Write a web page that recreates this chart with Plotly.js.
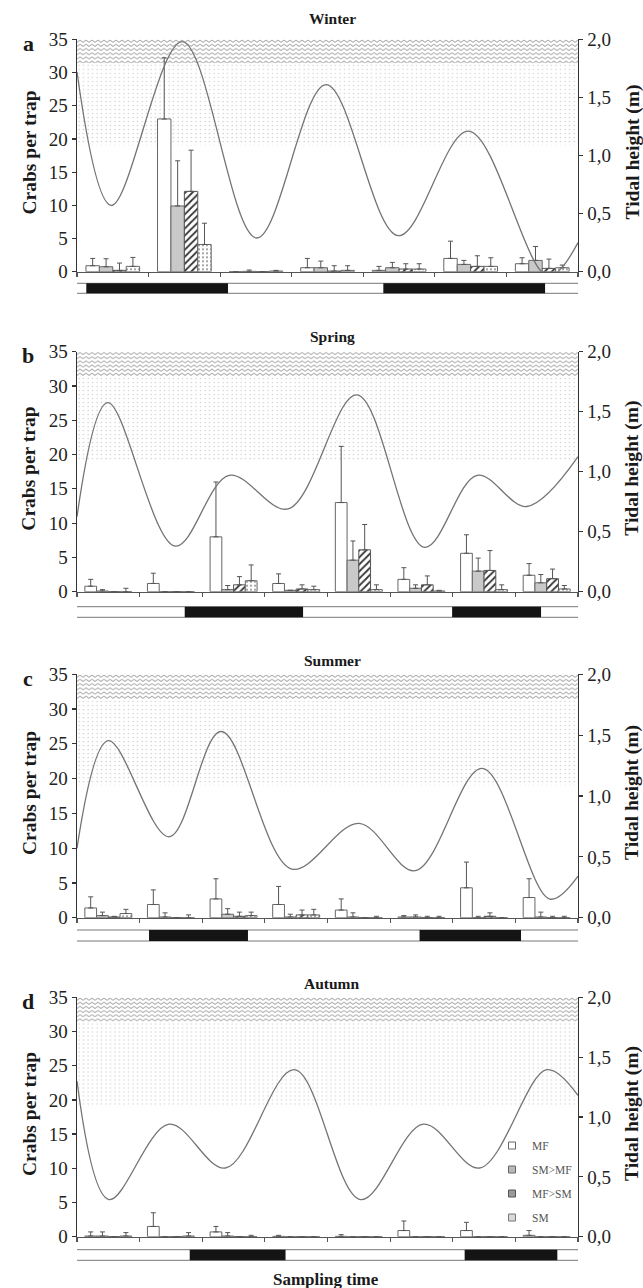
<!DOCTYPE html>
<html><head><meta charset="utf-8">
<script src="https://cdn.plot.ly/plotly-3.0.1.min.js"></script>
<style>html,body{margin:0;padding:0;background:#fff}#chart{width:643px;height:1288px}</style>
</head><body><div id="chart"></div>
<script>
// ---------------- DATA ----------------
const seriesNames = ['MF', 'SM>MF', 'MF>SM', 'SM'];
const seasonTitles = ['Winter', 'Spring', 'Summer', 'Autumn'];
const panelLetters = ['a', 'b', 'c', 'd'];
const tideTickVals = [0, 0.5, 1, 1.5, 2];
const tideTickText = ['0,0', '0,5', '1,0', '1,5', '2,0'];
const crabTickVals = [0, 5, 10, 15, 20, 25, 30, 35];

// Winter (7 sampling times)
const winterMF      = [0.9, 23.0, 0, 0.6, 0.2, 2.0, 1.2];
const winterMFErr   = [1.1, 9.2, 0, 1.4, 0.6, 2.6, 0.9];
const winterSMMF    = [0.75, 9.9, 0.05, 0.6, 0.6, 1.1, 1.7];
const winterSMMFErr = [1.2, 6.8, 0.2, 1.0, 0.8, 0.6, 2.1];
const winterMFSM    = [0.2, 12.1, 0, 0.1, 0.4, 0.8, 0.5];
const winterMFSMErr = [1.1, 6.2, 0, 0.8, 0.8, 1.6, 1.4];
const winterSM      = [0.8, 4.1, 0.1, 0.2, 0.4, 0.8, 0.6];
const winterSMErr   = [1.35, 3.2, 0.1, 0.7, 0.8, 1.3, 0.4];
// tide: times (in sampling-interval units) and heights (m) of the turning points
const winterTideT   = [0, 0.48, 1.47, 2.51, 3.48, 4.49, 5.47, 6.58, 7.0];
const winterTideH   = [1.72, 0.57, 1.98, 0.29, 1.61, 0.31, 1.21, -0.04, 0.25];
const winterNights  = [[0.13, 2.11], [4.28, 6.54]];
const winterSpan    = [-0.06, 7.06];

// Spring (8 sampling times)
const springMF      = [0.8, 1.2, 8.0, 1.2, 13.0, 1.8, 5.6, 2.4];
const springMFErr   = [1.0, 1.5, 8.0, 1.4, 8.2, 1.7, 2.7, 1.7];
const springSMMF    = [0.1, 0, 0.3, 0.2, 4.6, 0.5, 3.0, 1.3];
const springSMMFErr = [0.2, 0, 0.6, 0, 2.8, 0.5, 1.9, 1.2];
const springMFSM    = [0, 0, 1.0, 0.4, 6.1, 1.0, 3.1, 1.9];
const springMFSMErr = [0, 0, 1.2, 0.6, 3.7, 1.3, 2.9, 1.4];
const springSM      = [0, 0, 1.6, 0.3, 0.3, 0.1, 0.3, 0.4];
const springSMErr   = [0.5, 0, 2.3, 0.5, 0.7, 0.1, 0.7, 0.5];
const springTideT   = [0, 0.49, 1.57, 2.43, 3.37, 4.47, 5.55, 6.39, 7.18, 8.0];
const springTideH   = [0.625, 1.575, 0.38, 0.97, 0.69, 1.64, 0.37, 0.97, 0.71, 1.125];
const springNights  = [[1.72, 3.61], [5.99, 7.41]];
const springSpan    = [-0.03, 8.02];

// Summer (8 sampling times)
const summerMF      = [1.4, 1.9, 2.7, 1.9, 1.1, 0.1, 4.3, 2.9];
const summerMFErr   = [1.6, 2.1, 2.9, 2.6, 1.6, 0.2, 3.7, 2.7];
const summerSMMF    = [0.3, 0.1, 0.5, 0.1, 0.1, 0.1, 0, 0.1];
const summerSMMFErr = [0.5, 0.6, 0.8, 0.4, 0.6, 0.3, 0.2, 0.7];
const summerMFSM    = [0.1, 0, 0.2, 0.4, 0, 0, 0.2, 0];
const summerMFSMErr = [0.1, 0, 0.6, 0.7, 0, 0.2, 0.5, 0.2];
const summerSM      = [0.6, 0, 0.3, 0.4, 0, 0, 0, 0];
const summerSMErr   = [0.6, 0.4, 0.5, 0.8, 0.2, 0.2, 0, 0.2];
const summerTideT   = [0, 0.5, 1.47, 2.3, 3.43, 4.5, 5.4, 6.47, 7.55, 8.0];
const summerTideH   = [0.57, 1.455, 0.665, 1.53, 0.4, 0.775, 0.386, 1.227, 0.153, 0.342];
const summerNights  = [[1.15, 2.73], [5.47, 7.09]];
const summerSpan    = [-0.03, 8.02];

// Autumn (8 sampling times)
const autumnMF      = [0.1, 1.5, 0.7, 0.05, 0.05, 0.9, 0.9, 0.2];
const autumnMFErr   = [0.6, 2.0, 0.8, 0.15, 0.25, 1.4, 1.2, 0.7];
const autumnSMMF    = [0.1, 0, 0.1, 0, 0, 0, 0, 0];
const autumnSMMFErr = [0.6, 0, 0.5, 0, 0, 0, 0, 0];
const autumnMFSM    = [0, 0, 0, 0, 0, 0, 0, 0];
const autumnMFSMErr = [0, 0, 0, 0, 0, 0, 0, 0];
const autumnSM      = [0.1, 0.1, 0, 0, 0, 0, 0, 0];
const autumnSMErr   = [0.5, 0.5, 0.2, 0, 0, 0, 0, 0];
const autumnTideT   = [0, 0.51, 1.47, 2.37, 3.47, 4.53, 5.53, 6.43, 7.5, 8.0];
const autumnTideH   = [1.3, 0.31, 0.94, 0.574, 1.395, 0.31, 0.94, 0.574, 1.395, 1.18];
const autumnNights  = [[1.8, 3.33], [6.19, 7.67]];
const autumnSpan    = [-0.05, 8.03];

// background zones (crabs-axis units)
const zoneTop = 35, waveBottom = 31.4, dotsBottom = 19;

// ---------------- LAYOUT / STYLE ----------------
const W = 643, H = 1288;
const plotLeft = 77, plotRight = 578;
// [top of plot, bottom of plot, top of day bar, bottom of day bar, title y]
const panelPx = [
  [39.3, 271.7, 283.3, 293.3, 19],
  [351.7, 591.7, 606.7, 617.3, 336],
  [674.3, 917.7, 930, 941, 660],
  [997.3, 1236.7, 1249.7, 1260.3, 983]
];
const FONT = 'Liberation Serif, Times New Roman, serif';
const py = p => 1 - p / H;
const px = p => p / W;

const seasons = [
  {mf: winterMF, mfE: winterMFErr, smmf: winterSMMF, smmfE: winterSMMFErr, mfsm: winterMFSM, mfsmE: winterMFSMErr, sm: winterSM, smE: winterSMErr, tT: winterTideT, tH: winterTideH, nights: winterNights, span: winterSpan},
  {mf: springMF, mfE: springMFErr, smmf: springSMMF, smmfE: springSMMFErr, mfsm: springMFSM, mfsmE: springMFSMErr, sm: springSM, smE: springSMErr, tT: springTideT, tH: springTideH, nights: springNights, span: springSpan},
  {mf: summerMF, mfE: summerMFErr, smmf: summerSMMF, smmfE: summerSMMFErr, mfsm: summerMFSM, mfsmE: summerMFSMErr, sm: summerSM, smE: summerSMErr, tT: summerTideT, tH: summerTideH, nights: summerNights, span: summerSpan},
  {mf: autumnMF, mfE: autumnMFErr, smmf: autumnSMMF, smmfE: autumnSMMFErr, mfsm: autumnMFSM, mfsmE: autumnMFSMErr, sm: autumnSM, smE: autumnSMErr, tT: autumnTideT, tH: autumnTideH, nights: autumnNights, span: autumnSpan}
];

const barStyles = [
  {color: '#ffffff', line: {color: '#666', width: 1}},
  {color: '#c9c9c9', line: {color: '#666', width: 1}},
  {color: '#ffffff', line: {color: '#555', width: 1}, pattern: {shape: '/', fgcolor: '#333', bgcolor: '#ffffff', size: 5, solidity: 0.35}},
  {color: '#ffffff', line: {color: '#666', width: 1}, pattern: {shape: '.', fgcolor: '#8a8a8a', bgcolor: '#ffffff', size: 4, solidity: 0.2}}
];
const legendSymbols = [
  {color: '#ffffff', line: {color: '#666', width: 1}},
  {color: '#b8b8b8', line: {color: '#666', width: 1}},
  {color: '#9a9a9a', line: {color: '#555', width: 1}},
  {color: '#d8d8d8', line: {color: '#777', width: 1}}
];

function svgURI(w, h, kind) {
  let pat;
  if (kind === 'wave') {
    pat = '<pattern id="p" width="6" height="4.2" patternUnits="userSpaceOnUse">' +
          '<path d="M-0.5 3.4 L3 0.8 L6.5 3.4" fill="none" stroke="#adadad" stroke-width="1" stroke-linejoin="round"/></pattern>';
  } else {
    pat = '<pattern id="p" width="4.5" height="4" patternUnits="userSpaceOnUse">' +
          '<rect x="1.5" y="1.5" width="1.1" height="1.1" fill="#c2c2c2"/></pattern>';
  }
  const svg = '<svg xmlns="http://www.w3.org/2000/svg" width="' + w + '" height="' + h +
    '" viewBox="0 0 ' + w + ' ' + h + '"><defs>' + pat + '</defs><rect width="' + w + '" height="' + h + '" fill="url(#p)"/></svg>';
  return 'data:image/svg+xml;base64,' + btoa(svg);
}

const data = [];
const layout = {
  width: W, height: H,
  margin: {l: 0, r: 0, t: 0, b: 0},
  paper_bgcolor: '#ffffff', plot_bgcolor: 'rgba(0,0,0,0)',
  barmode: 'group', bargap: 0.25, bargroupgap: 0,
  showlegend: true,
  legend: {x: px(492), y: py(1131), xanchor: 'left', yanchor: 'top', bgcolor: 'rgba(0,0,0,0)',
           font: {family: FONT, size: 11.5, color: '#555'}, tracegroupgap: 5, itemwidth: 30},
  shapes: [], annotations: [], images: [],
  font: {family: FONT, color: '#222'}
};

seasons.forEach((s, i) => {
  const n = s.mf.length;
  const xs = s.mf.map((_, k) => k + 0.5);
  const xName = i === 0 ? 'x' : 'x' + (i + 1);
  const yL = 2 * i + 1, yR = 2 * i + 2;
  const yLName = yL === 1 ? 'y' : 'y' + yL;
  const yRName = 'y' + yR;
  const [top, bot, bTop, bBot, titleY] = panelPx[i];

  const vals = [s.mf, s.smmf, s.mfsm, s.sm];
  const errs = [s.mfE, s.smmfE, s.mfsmE, s.smE];
  vals.forEach((v, j) => {
    data.push({
      type: 'bar', x: xs, y: v, name: seriesNames[j],
      xaxis: xName, yaxis: yLName,
      marker: barStyles[j],
      error_y: {type: 'data', symmetric: false, array: errs[j].map(e => e > 0 ? e : null),
                arrayminus: errs[j].map(() => 0), color: '#555', thickness: 1, width: 2.5},
      showlegend: false, hoverinfo: 'skip'
    });
  });
  data.push({
    type: 'scatter', mode: 'lines', x: s.tT, y: s.tH, xaxis: xName, yaxis: yRName,
    line: {shape: 'spline', smoothing: 1, color: '#747474', width: 1.3},
    showlegend: false, hoverinfo: 'skip'
  });

  if (i === 3) {
    seriesNames.forEach((nm, j) => {
      data.push({type: 'scatter', mode: 'markers', x: [null], y: [null], name: nm,
        xaxis: xName, yaxis: yLName, legendgroup: 'g' + j,
        marker: Object.assign({symbol: 'square', size: 7}, legendSymbols[j]), hoverinfo: 'skip'});
    });
  }

  const axX = {
    domain: [px(plotLeft), px(plotRight)], range: [0, n], anchor: yLName,
    showgrid: false, zeroline: false, showline: true, linecolor: '#555', linewidth: 1.2,
    ticks: 'outside', ticklen: 4, tickwidth: 1.2, tickcolor: '#555',
    tickvals: Array.from({length: n + 1}, (_, k) => k), showticklabels: false, fixedrange: true
  };
  const axYL = {
    domain: [py(bot), py(top)], range: [0, 35], anchor: xName,
    showgrid: false, zeroline: false, showline: true, linecolor: '#333', linewidth: 1.4,
    ticks: 'outside', ticklen: 4, tickwidth: 1.2, tickcolor: '#333',
    tickvals: crabTickVals, tickfont: {family: FONT, size: 19, color: '#222'}, fixedrange: true
  };
  const axYR = {
    overlaying: yLName, side: 'right', range: [0, 2], anchor: xName,
    showgrid: false, zeroline: false, showline: true, linecolor: '#333', linewidth: 1.4,
    ticks: 'outside', ticklen: 4, tickwidth: 1.2, tickcolor: '#333',
    tickvals: tideTickVals, ticktext: tideTickText, tickfont: {family: FONT, size: 19, color: '#222'}, fixedrange: true
  };
  layout[i === 0 ? 'xaxis' : 'xaxis' + (i + 1)] = axX;
  layout[yL === 1 ? 'yaxis' : 'yaxis' + yL] = axYL;
  layout['yaxis' + yR] = axYR;

  // background zones
  const plotH = bot - top, plotW = plotRight - plotLeft;
  const waveH = Math.round((zoneTop - waveBottom) / 35 * plotH);
  const dotsH = Math.round((waveBottom - dotsBottom) / 35 * plotH);
  layout.images.push({source: svgURI(plotW, waveH, 'wave'), xref: xName, yref: yLName,
    x: 0, y: zoneTop, sizex: n, sizey: zoneTop - waveBottom, xanchor: 'left', yanchor: 'top',
    sizing: 'stretch', layer: 'below'});
  layout.images.push({source: svgURI(plotW, dotsH, 'dots'), xref: xName, yref: yLName,
    x: 0, y: waveBottom, sizex: n, sizey: waveBottom - dotsBottom, xanchor: 'left', yanchor: 'top',
    sizing: 'stretch', layer: 'below'});

  // day/night bar
  layout.shapes.push({type: 'rect', xref: xName, yref: 'paper', x0: s.span[0], x1: s.span[1],
    y0: py(bBot), y1: py(bTop), fillcolor: '#ffffff', line: {color: '#777', width: 1}});
  s.nights.forEach(nt => {
    layout.shapes.push({type: 'rect', xref: xName, yref: 'paper', x0: nt[0], x1: nt[1],
      y0: py(bBot), y1: py(bTop), fillcolor: '#141414', line: {width: 0}});
  });

  // texts
  const ann = (text, x, y, size, angle) => layout.annotations.push({text: text, xref: 'paper', yref: 'paper',
    x: px(x), y: py(y), xanchor: 'center', yanchor: 'middle', showarrow: false, textangle: angle || 0,
    font: {family: FONT, size: size, color: '#1a1a1a'}});
  ann('<b>' + seasonTitles[i] + '</b>', 332, titleY, 15.5);
  ann('<b>' + panelLetters[i] + '</b>', 28, top + 4, 22);
  ann('<b>Crabs per trap</b>', 29, (top + bot) / 2 - 3, 19.5, -90);
  ann('<b>Tidal height (m)</b>', 632, (top + bot) / 2 - 3, 19.5, -90);
});

layout.annotations.push({text: '<b>Sampling time</b>', xref: 'paper', yref: 'paper', xanchor: 'center', yanchor: 'middle',
  x: px(326), y: py(1279), showarrow: false, font: {family: FONT, size: 17, color: '#1a1a1a'}});

Plotly.newPlot('chart', data, layout, {displayModeBar: false, staticPlot: true});
</script>
</body></html>
